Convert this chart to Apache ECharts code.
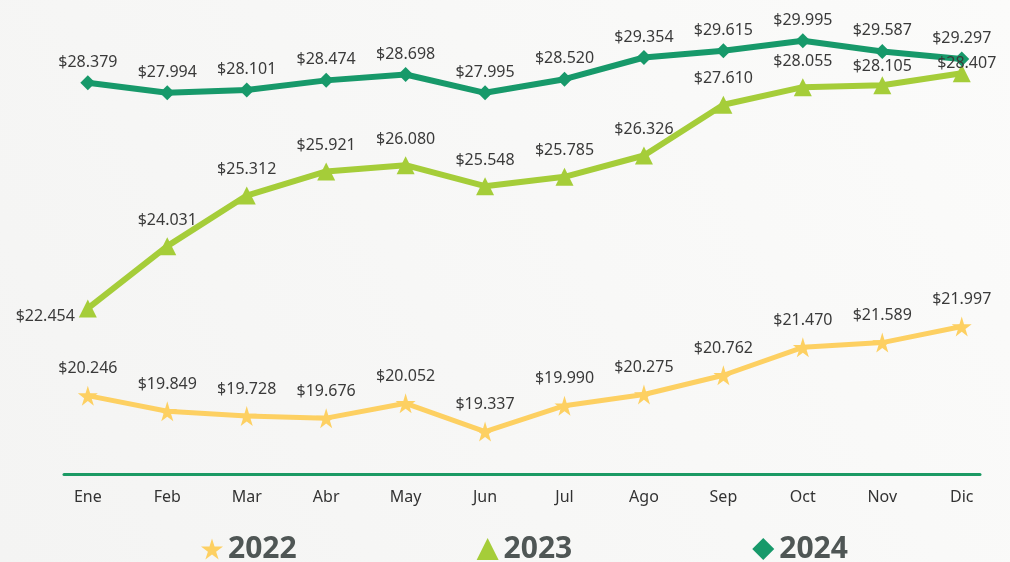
<!DOCTYPE html>
<html>
<head>
<meta charset="utf-8">
<script src="https://cdn.jsdelivr.net/npm/echarts@6/dist/echarts.min.js"></script>
<style>
    html, body { margin: 0; padding: 0; background: #f7f7f6; }
    #chart { width: 1010px; height: 562px; }
</style>
</head>
<body>
<div id="chart"></div>
<script>
    // datos
    var meses = ['Ene', 'Feb', 'Mar', 'Abr', 'May', 'Jun', 'Jul', 'Ago', 'Sep', 'Oct', 'Nov', 'Dic'];
    var anios = ['2022', '2023', '2024'];
    var v2022 = [20.246, 19.849, 19.728, 19.676, 20.052, 19.337, 19.990, 20.275, 20.762, 21.470, 21.589, 21.997];
    var v2023 = [22.454, 24.031, 25.312, 25.921, 26.080, 25.548, 25.785, 26.326, 27.610, 28.055, 28.105, 28.407];
    var v2024 = [28.379, 27.994, 28.101, 28.474, 28.698, 27.995, 28.520, 29.354, 29.615, 29.995, 29.587, 29.297];

    var starPath = 'path://M50,0 L61,35 L98,35 L68,57 L79,91 L50,70 L21,91 L32,57 L2,35 L39,35 Z';
    var colores = ['#fdd062', '#a5cd39', '#17996a'];
    var fuente = 'Noto Sans';

    function fmt(v) {
        return '$' + v.toFixed(3);
    }

    function puntos(arr) {
        return arr.map(function (v, i) { return [i, v]; });
    }

    function etiqueta(dist) {
        return {
            show: true,
            position: 'top',
            distance: dist,
            fontFamily: fuente,
            fontSize: 16,
            color: '#3a3a3a',
            formatter: function (p) { return fmt(p.value[1]); }
        };
    }

    // 2023: primer punto con la etiqueta a la izquierda, los últimos más pegados
    var data2023 = puntos(v2023).map(function (d, i) {
        if (i === 0) {
            return { value: d, label: { position: 'left', distance: 4, offset: [0, 8] } };
        }
        if (i === 10) {
            return { value: d, label: { distance: 2 } };
        }
        if (i === 11) {
            return { value: d, label: { distance: 0, offset: [5, 7] } };
        }
        return d;
    });

    var chart = echarts.init(document.getElementById('chart'));

    chart.setOption({
        backgroundColor: {
            type: 'linear', x: 0, y: 1, x2: 1, y2: 0,
            colorStops: [{ offset: 0, color: '#f4f4f3' }, { offset: 1, color: '#fbfbfa' }]
        },
        animation: false,
        grid: { left: 64, right: 30, top: 20, bottom: 88 },
        legend: {
            left: 196,
            top: 529,
            itemGap: 180,
            itemWidth: 22,
            itemHeight: 22,
            textStyle: { fontFamily: 'Open Sans', fontSize: 30, fontWeight: 'bold', color: '#4f5655' },
            data: [
                { name: '2022', icon: starPath },
                { name: '2023', icon: 'triangle' },
                { name: '2024', icon: 'diamond' }
            ]
        },
        xAxis: {
            type: 'value',
            min: -0.3,
            max: 11.23,
            axisLine: { show: true, lineStyle: { color: '#1b9a64', width: 3 } },
            axisTick: { show: false },
            splitLine: { show: false },
            axisLabel: {
                customValues: meses.map(function (m, i) { return i; }),
                margin: 15,
                fontFamily: fuente,
                fontSize: 16,
                color: '#333',
                formatter: function (v) { return meses[Math.round(v)]; }
            }
        },
        yAxis: [
            { type: 'value', min: 18.262, max: 29.756, show: false, splitLine: { show: false } },
            { type: 'value', min: 13.334, max: 30.796, show: false, splitLine: { show: false } }
        ],
        series: [
            {
                name: anios[0],
                type: 'line',
                yAxisIndex: 0,
                data: puntos(v2022),
                symbol: starPath,
                symbolSize: 20,
                lineStyle: { color: colores[0], width: 5 },
                itemStyle: { color: colores[0] },
                label: etiqueta(9)
            },
            {
                name: anios[1],
                type: 'line',
                yAxisIndex: 0,
                data: data2023,
                symbol: 'triangle',
                symbolSize: 18,
                lineStyle: { color: colores[1], width: 6 },
                itemStyle: { color: colores[1] },
                label: etiqueta(9)
            },
            {
                name: anios[2],
                type: 'line',
                yAxisIndex: 1,
                data: puntos(v2024),
                symbol: 'diamond',
                symbolSize: 15,
                lineStyle: { color: colores[2], width: 6 },
                itemStyle: { color: colores[2] },
                label: etiqueta(5)
            }
        ]
    });
</script>
</body>
</html>
